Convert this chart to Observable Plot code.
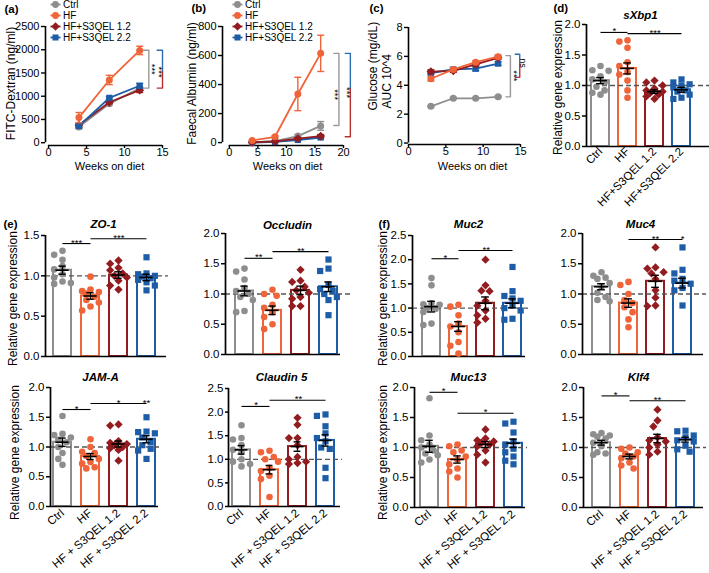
<!DOCTYPE html>
<html><head><meta charset="utf-8">
<script src="https://cdn.jsdelivr.net/npm/d3@7"></script>
<script src="https://cdn.jsdelivr.net/npm/@observablehq/plot@0.6"></script>
<style>
html,body{margin:0;padding:0;background:#fff;}
#fig{position:relative;width:709px;height:573px;overflow:hidden;background:#fff;}
#fig svg{position:absolute;left:0;top:0;}
</style></head><body><div id="fig"></div>
<script>
const W = 709, H = 573;
const FONT = '"Liberation Sans", Arial, Helvetica, sans-serif';

// ---------- groups ----------
const groups = ["Ctrl", "HF", "HF+S3QEL 1.2", "HF+S3QEL 2.2"];
const groupColors = ["#8e8e8e", "#f0643a", "#921c1f", "#1d5ca6"];
const labelsTop = ["Ctrl", "HF", "HF+S3QEL 1.2", "HF+S3QEL 2.2"];
const labelsBottom = ["Ctrl", "HF", "HF + S3QEL 1.2", "HF + S3QEL 2.2"];

// ---------- (a) FITC-Dextran ----------
const weeksA = [4, 8, 12];
const fitcMeans = [[340, 840, 1170], [540, 1350, 1985], [380, 870, 1130], [360, 965, 1225]];
const fitcErrs = [[40, 25, 40], [110, 100, 90], [40, 25, 50], [40, 25, 50]];

// ---------- (b) Faecal albumin ----------
const weeksB = [4, 8, 12, 16];
const albMeans = [[2, 10, 45, 115], [15, 40, 335, 615], [2, 8, 28, 45], [0, 5, 18, 35]];
const albErrs = [[2, 3, 8, 30], [4, 8, 115, 125], [2, 3, 6, 10], [2, 3, 5, 8]];

// ---------- (c) Glucose AUC ----------
const weeksC = [3, 6, 9, 12];
const glucMeans = [[2.54, 3.1, 3.1, 3.2], [4.45, 5.1, 5.6, 5.98], [4.95, 5.0, 5.45, 5.9], [4.85, 5.1, 5.15, 5.5]];
const glucErrs = [[0.05, 0.06, 0.05, 0.05], [0.15, 0.1, 0.1, 0.12], [0.12, 0.1, 0.1, 0.1], [0.1, 0.1, 0.15, 0.12]];

// ---------- gene expression panels ----------
const sxbpMean = [1.08, 1.28, 0.9, 0.93], sxbpSem = [0.05, 0.09, 0.03, 0.04];
const sxbpPoints = [
  [1.32, 1.25, 1.24, 1.15, 1.1, 1.05, 0.98, 0.92, 0.88, 0.85],
  [1.74, 1.72, 1.62, 1.38, 1.32, 1.22, 1.18, 1.08, 0.92, 0.8],
  [1.08, 1.05, 1.0, 0.95, 0.92, 0.9, 0.88, 0.85, 0.82, 0.78],
  [1.1, 1.05, 1.02, 1.0, 0.97, 0.92, 0.9, 0.85, 0.8, 0.78]];
const sxbpSig = [{from: "Ctrl", to: "HF", y: 1.87, text: "*"}, {from: "HF", to: "HF+S3QEL 2.2", y: 1.85, text: "***"}];

const zo1Mean = [1.07, 0.75, 1.01, 0.98], zo1Sem = [0.05, 0.04, 0.04, 0.04];
const zo1Points = [
  [1.31, 1.26, 1.2, 1.12, 1.08, 1.02, 0.98, 0.93, 0.91, 0.9],
  [0.99, 0.83, 0.81, 0.8, 0.78, 0.74, 0.7, 0.67, 0.62, 0.57],
  [1.19, 1.15, 1.1, 1.07, 1.03, 1.0, 0.98, 0.94, 0.88, 0.83],
  [1.23, 1.03, 1.02, 1.0, 0.99, 0.97, 0.95, 0.92, 0.88, 0.82]];
const zo1Sig = [{from: "Ctrl", to: "HF", y: 1.4, text: "***"}, {from: "HF", to: "HF+S3QEL 2.2", y: 1.46, text: "***"}];

const occMean = [1.05, 0.73, 1.06, 1.12], occSem = [0.08, 0.07, 0.07, 0.08];
const occPoints = [
  [1.42, 1.37, 1.24, 1.1, 1.05, 1.0, 0.95, 0.9, 0.72, 0.7],
  [1.07, 1.0, 0.97, 0.82, 0.77, 0.7, 0.62, 0.5, 0.42],
  [1.4, 1.22, 1.2, 1.12, 1.06, 1.02, 0.95, 0.92, 0.8, 0.8],
  [1.57, 1.42, 1.38, 1.15, 1.08, 1.05, 1.0, 0.95, 0.9, 0.65]];
const occSig = [{from: "Ctrl", to: "HF", y: 1.59, text: "**"}, {from: "HF", to: "HF+S3QEL 2.2", y: 1.7, text: "**"}];

const muc2Mean = [1.03, 0.62, 1.1, 1.1], muc2Sem = [0.11, 0.1, 0.13, 0.09];
const muc2Points = [
  [1.62, 1.47, 1.1, 1.08, 1.07, 1.0, 0.98, 0.92, 0.68, 0.65],
  [1.07, 1.03, 0.85, 0.68, 0.62, 0.5, 0.3, 0.22, 0.06],
  [2.0, 1.47, 1.36, 1.35, 1.15, 1.05, 0.95, 0.85, 0.78, 0.7],
  [1.85, 1.35, 1.25, 1.2, 1.15, 1.05, 1.0, 0.95, 0.78, 0.76]];
const muc2Sig = [{from: "Ctrl", to: "HF", y: 2.02, text: "*"}, {from: "HF", to: "HF+S3QEL 2.2", y: 2.19, text: "**"}];

const muc4Mean = [1.12, 0.85, 1.21, 1.18], muc4Sem = [0.05, 0.07, 0.1, 0.08];
const muc4Points = [
  [1.36, 1.3, 1.27, 1.25, 1.18, 1.12, 1.02, 0.95, 0.9, 0.88],
  [1.2, 1.15, 1.0, 0.9, 0.85, 0.78, 0.7, 0.58, 0.45],
  [1.77, 1.44, 1.42, 1.36, 1.34, 1.25, 1.06, 0.94, 0.81, 0.8],
  [1.77, 1.4, 1.34, 1.25, 1.22, 1.17, 1.1, 1.06, 0.81]];
const muc4Sig = [{from: "HF", to: "HF+S3QEL 2.2", y: 1.9, stars: [["HF+S3QEL 1.2", "**"], ["HF+S3QEL 2.2", "*"]]}];

const jamMean = [1.08, 0.84, 1.05, 1.13], jamSem = [0.07, 0.05, 0.05, 0.06];
const jamPoints = [
  [1.52, 1.22, 1.2, 1.16, 1.12, 1.08, 1.0, 0.9, 0.8, 0.7],
  [1.13, 1.0, 0.92, 0.9, 0.85, 0.8, 0.75, 0.72, 0.66, 0.64],
  [1.38, 1.36, 1.1, 1.07, 1.05, 1.03, 1.0, 0.98, 0.95, 0.77],
  [1.5, 1.26, 1.25, 1.23, 1.16, 1.08, 1.03, 0.97, 0.94, 0.8]];
const jamSig = [{from: "Ctrl", to: "HF", y: 1.63, text: "*"}, {from: "HF", to: "HF+S3QEL 2.2", y: 1.73, stars: [["HF+S3QEL 1.2", "*"], ["HF+S3QEL 2.2", "**"]]}];

const cld5Mean = [1.2, 0.78, 1.27, 1.4], cld5Sem = [0.09, 0.09, 0.1, 0.12];
const cld5Points = [
  [1.72, 1.45, 1.42, 1.3, 1.2, 1.15, 1.0, 0.95, 0.9, 0.85],
  [1.18, 1.15, 1.05, 1.0, 0.95, 0.82, 0.75, 0.65, 0.58, 0.2],
  [1.88, 1.73, 1.45, 1.45, 1.3, 1.05, 1.0, 0.95, 0.92, 0.9],
  [1.95, 1.92, 1.7, 1.55, 1.45, 1.38, 1.25, 1.22, 0.82, 0.6]];
const cld5Sig = [{from: "Ctrl", to: "HF", y: 2.12, text: "*"}, {from: "HF", to: "HF+S3QEL 2.2", y: 2.25, text: "**"}];

const muc13Mean = [1.02, 0.8, 1.05, 1.07], muc13Sem = [0.1, 0.06, 0.05, 0.07];
const muc13Points = [
  [1.82, 1.2, 1.12, 1.05, 1.0, 0.95, 0.9, 0.87, 0.8, 0.75],
  [1.05, 1.02, 0.95, 0.92, 0.85, 0.8, 0.72, 0.65, 0.6, 0.5],
  [1.3, 1.15, 1.12, 1.1, 1.08, 1.05, 1.02, 0.95, 0.88, 0.75],
  [1.43, 1.4, 1.25, 1.1, 1.05, 0.98, 0.92, 0.85, 0.78, 0.72]];
const muc13Sig = [{from: "Ctrl", to: "HF", y: 1.92, text: "*"}, {from: "HF", to: "HF+S3QEL 2.2", y: 1.57, text: "*"}];

const klf4Mean = [1.08, 0.85, 1.15, 1.13], klf4Sem = [0.04, 0.04, 0.07, 0.04];
const klf4Points = [
  [1.24, 1.22, 1.2, 1.18, 1.15, 1.08, 1.02, 0.92, 0.9, 0.88],
  [1.0, 0.98, 0.92, 0.9, 0.85, 0.82, 0.75, 0.7, 0.65],
  [1.63, 1.45, 1.35, 1.17, 1.12, 1.1, 1.05, 1.0, 0.93, 0.88],
  [1.28, 1.27, 1.2, 1.17, 1.12, 1.1, 1.03, 0.97, 0.93]];
const klf4Sig = [{from: "Ctrl", to: "HF", y: 1.86, text: "*"}, {from: "HF", to: "HF+S3QEL 2.2", y: 1.78, text: "**"}];

// ---------- helpers ----------
const fig = document.getElementById("fig");
const capSym = {draw(ctx, size) { const r = Math.sqrt(size / Math.PI); ctx.moveTo(-r, 0); ctx.lineTo(r, 0); }};
const diamondSym = {draw(ctx, size) { const a = Math.sqrt(size / 2); ctx.moveTo(0, -a); ctx.lineTo(a, 0); ctx.lineTo(0, a); ctx.lineTo(-a, 0); ctx.closePath(); }};
const symFor = ["circle", "circle", diamondSym, "square"];

function mount(marks, opts) {
  const svg = Plot.plot({
    width: W, height: H, ...opts,
    color: {type: "identity"},
    style: {background: "transparent", fontFamily: FONT, color: "black", overflow: "visible"},
    marks
  });
  svg.style.position = "absolute"; svg.style.left = "0px"; svg.style.top = "0px";
  fig.appendChild(svg);
}

function txt(str, o) {
  return Plot.text([str], {text: d => d, frameAnchor: "top-left", textAnchor: "middle", lineAnchor: "middle", fill: "black", ...o});
}

function swarm(vals, ky, r, maxOff) {
  const idx = vals.map((_, i) => i).sort((a, b) => vals[b] - vals[a]);
  const cands = [0, -maxOff / 2, maxOff / 2, -maxOff, maxOff];
  const placed = [], offs = [];
  for (const i of idx) {
    const py = vals[i] * ky;
    let pick = 0, bestD = -1;
    for (const c of cands) {
      let d = Infinity;
      for (const p of placed) d = Math.min(d, Math.hypot(p[0] - c, p[1] - py));
      if (d >= 2 * r) { pick = c; break; }
      if (d > bestD) { bestD = d; pick = c; }
    }
    placed.push([pick, py]); offs[i] = pick;
  }
  return offs;
}

function legend(x0) {
  const rows = groups.map((g, i) => ({g, i}));
  const marks = [
    Plot.link(rows, {x1: 0, x2: 10, y1: "g", y2: "g", stroke: d => groupColors[d.i], strokeWidth: 1.8}),
    ...rows.map((r, i) => Plot.dot([r], {x: 5, y: "g", r: 3.4, symbol: symFor[i], fill: groupColors[i]})),
    Plot.text(rows, {x: 12.5, y: "g", text: "g", textAnchor: "start", fontSize: 10, fill: "black"})
  ];
  mount(marks, {marginLeft: x0, marginRight: W - x0 - 10, marginTop: 3, marginBottom: H - 37,
    x: {domain: [0, 10], axis: null}, y: {type: "point", domain: groups, padding: 0, axis: null}});
}

function linePanel(c) {
  const [L, R] = c.xRange, [B, T] = c.yRange;
  const marks = [
    Plot.ruleX([c.xDomain[0]], {y1: 0, y2: c.yTicks[c.yTicks.length - 1], strokeWidth: 1.6}),
    Plot.ruleY([c.yDomain[0]], {x1: c.xTicks[0], x2: c.xTicks[c.xTicks.length - 1], strokeWidth: 1.6}),
    Plot.axisY({ticks: c.yTicks, tickSize: 4, tickPadding: 2, fontSize: 11, strokeWidth: 1.4, label: null, tickFormat: d => String(d)}),
    Plot.axisX({ticks: c.xTicks, tickSize: 3, tickPadding: 0, fontSize: 11, strokeWidth: 1.4, label: null})
  ];
  for (const gi of c.order) {
    const d = c.weeks.map((w, j) => ({w, v: c.means[gi][j], e: c.errs[gi][j]}));
    const col = groupColors[gi];
    marks.push(Plot.ruleX(d, {x: "w", y1: r => r.v - r.e, y2: r => r.v + r.e, stroke: col, strokeWidth: 1.4}));
    marks.push(Plot.dot(d, {x: "w", y: r => r.v + r.e, symbol: capSym, r: 3.5, stroke: col, fill: "none", strokeWidth: 1.4}));
    marks.push(Plot.dot(d, {x: "w", y: r => r.v - r.e, symbol: capSym, r: 3.5, stroke: col, fill: "none", strokeWidth: 1.4}));
    marks.push(Plot.line(d, {x: "w", y: "v", stroke: col, strokeWidth: 1.8}));
    marks.push(Plot.dot(d, {x: "w", y: "v", symbol: symFor[gi], r: 3.5, fill: col}));
  }
  for (const b of c.brackets) {
    const pts = [];
    if (b.ticks !== "bottom") pts.push([b.x - b.t, b.y1]);
    pts.push([b.x, b.y1], [b.x, b.y2]);
    if (b.ticks !== "top") pts.push([b.x - b.t, b.y2]);
    marks.push(Plot.line(pts, {stroke: b.color, strokeWidth: 1.4}));
  }
  for (const s of c.stars) {
    marks.push(Plot.text([s], {x: "x", y: "y", text: "text", rotate: 90, fontSize: s.size || 9.5, fill: "black"}));
  }
  marks.push(txt(c.letter, {dx: c.letterPos[0] - L, dy: c.letterPos[1] - T, fontWeight: "bold", fontSize: 11.5, textAnchor: "start"}));
  marks.push(txt("Weeks on diet", {dx: c.xlabPos[0] - L, dy: c.xlabPos[1] - T, fontSize: 11}));
  for (const yl of c.ylabels) {
    marks.push(txt(yl.text, {dx: yl.x - L, dy: yl.y - T, rotate: -90, fontSize: 12, textAnchor: yl.anchor || "middle"}));
  }
  mount(marks, {marginLeft: L, marginRight: W - R, marginTop: T, marginBottom: H - B,
    x: {domain: c.xDomain, axis: null}, y: {domain: c.yDomain, axis: null}});
}

function barPanel(c) {
  const step = (c.c3 - c.c0) / 3;
  const pin = 0.34;
  const bw = step * (1 - pin);
  const r0 = c.c0 - bw / 2;
  const r1 = r0 + step * (4 - pin);
  const ky = (c.bottom - c.top) / c.ymax;
  const summary = groups.map((g, i) => ({g, i, m: c.mean[i], s: c.sem[i]}));
  const lab = new Map(groups.map((g, i) => [g, c.labels ? c.labels[i] : ""]));
  const marks = [];
  marks.push(Plot.barY(summary, {x: "g", y: "m", fill: "white", stroke: d => groupColors[d.i], strokeWidth: 2}));
  marks.push(Plot.ruleY([1], {stroke: "#555", strokeWidth: 1.3, strokeDasharray: "5,3"}));
  marks.push(Plot.ruleY([0], {strokeWidth: 1.7, insetRight: c.dashEnd - c.right}));
  marks.push(Plot.ruleX([groups[0]], {y1: 0, y2: c.ymax, dx: c.axisX - c.c0, strokeWidth: 1.7}));
  marks.push(Plot.axisY({ticks: c.yticks, tickFormat: d3.format(".1f"), tickSize: 4, tickPadding: 2, fontSize: 11.5, strokeWidth: 1.5, label: null}));
  if (c.labels) marks.push(Plot.axisX({tickRotate: c.rot || -40, tickSize: 0, tickPadding: c.pad || 5, fontSize: 11.5, label: null, tickFormat: d => lab.get(d)}));
  c.points.forEach((arr, i) => {
    const offs = swarm(arr, ky, 3.2, bw / 2 - 1);
    for (const o of [...new Set(offs)]) {
      const sub = arr.map((v, j) => ({g: groups[i], v, o: offs[j]})).filter(p => p.o === o);
      marks.push(Plot.dot(sub, {x: "g", y: "v", dx: o, r: i === 3 ? 3.5 : 3.3, symbol: symFor[i], fill: groupColors[i]}));
    }
  });
  const capIn = (bw - 8) / 2, meanIn = Math.max(0, (bw - 14) / 2);
  marks.push(Plot.ruleX(summary, {x: "g", y1: d => d.m - d.s, y2: d => d.m + d.s, strokeWidth: 1.4}));
  marks.push(Plot.tickY(summary, {x: "g", y: d => d.m + d.s, insetLeft: capIn, insetRight: capIn, strokeWidth: 1.4}));
  marks.push(Plot.tickY(summary, {x: "g", y: d => d.m - d.s, insetLeft: capIn, insetRight: capIn, strokeWidth: 1.4}));
  marks.push(Plot.tickY(summary, {x: "g", y: "m", insetLeft: meanIn, insetRight: meanIn, strokeWidth: 1.6}));
  for (const s of c.sig) {
    marks.push(Plot.link([s], {x1: "from", x2: "to", y1: "y", y2: "y", strokeWidth: 1.1}));
    const stars = s.stars ? s.stars.map(([g, t]) => ({g, t, dx: 0}))
      : [{g: s.from, t: s.text, dx: (groups.indexOf(s.to) - groups.indexOf(s.from)) * step / 2}];
    for (const st of stars) {
      marks.push(Plot.text([st], {x: "g", y: () => s.y, text: "t", dx: st.dx, dy: 2, lineAnchor: "bottom", fontSize: 9.5, fill: "black"}));
    }
  }
  marks.push(txt(c.title, {dx: c.titlePos[0] - c.axisX, dy: c.titlePos[1] - c.top, fontSize: 11.5, fontWeight: "bold", fontStyle: "italic"}));
  if (c.ylabPos) marks.push(txt("Relative gene expression", {dx: c.ylabPos[0] - c.axisX, dy: c.ylabPos[1] - c.top, rotate: -90, fontSize: 12}));
  if (c.letter) marks.push(txt(c.letter, {dx: c.letterPos[0] - c.axisX, dy: c.letterPos[1] - c.top, fontSize: 11.5, fontWeight: "bold", textAnchor: "start"}));
  mount(marks, {
    marginLeft: c.axisX, marginRight: W - c.dashEnd, marginTop: c.top, marginBottom: H - c.bottom,
    x: {type: "band", domain: groups, range: [r0, r1], paddingInner: pin, paddingOuter: 0, align: 0, axis: null},
    y: {domain: [0, c.ymax], axis: null}
  });
}

// ---------- top row: time courses ----------
const gray = "#999999", blueB = "#2a6db5", redB = "#b8312f";
linePanel({
  weeks: weeksA, means: fitcMeans, errs: fitcErrs, order: [0, 2, 3, 1],
  xDomain: [-0.4, 15], xRange: [45, 162], yDomain: [-60, 2500], yRange: [145, 26],
  xTicks: [0, 5, 10, 15], yTicks: [0, 500, 1000, 1500, 2000, 2500],
  brackets: [
    {x: 13.2, y1: 1990, y2: 1175, t: 0.7, color: gray, ticks: "both"},
    {x: 15.0, y1: 1990, y2: 1530, t: 0.7, color: blueB, ticks: "top"},
    {x: 15.0, y1: 1530, y2: 1175, t: 0.7, color: redB, ticks: "bottom"}],
  stars: [{x: 13.65, y: 1580, text: "***"}, {x: 14.6, y: 1520, text: "***"}],
  letter: "(a)", letterPos: [4, 9], xlabPos: [109, 166],
  ylabels: [{text: "FITC-Dextran (ng/ml)", x: 11, y: 83}]
});
legend(50);

linePanel({
  weeks: weeksB, means: albMeans, errs: albErrs, order: [0, 3, 2, 1],
  xDomain: [-1.2, 20], xRange: [222, 343], yDomain: [-20, 800], yRange: [145, 26],
  xTicks: [0, 5, 10, 15, 20], yTicks: [0, 200, 400, 600, 800],
  brackets: [
    {x: 19.2, y1: 615, y2: 118, t: 0.9, color: gray, ticks: "both"},
    {x: 21.2, y1: 615, y2: 370, t: 0.9, color: blueB, ticks: "top"},
    {x: 21.2, y1: 370, y2: 40, t: 0.9, color: redB, ticks: "bottom"}],
  stars: [{x: 18.55, y: 330, text: "***"}, {x: 20.6, y: 345, text: "***"}],
  letter: "(b)", letterPos: [191, 8], xlabPos: [287, 166],
  ylabels: [{text: "Faecal Albumin (ng/ml)", x: 192, y: 83}]
});
legend(232);

linePanel({
  weeks: weeksC, means: glucMeans, errs: glucErrs, order: [0, 3, 2, 1],
  xDomain: [0, 15], xRange: [408, 520], yDomain: [-0.1, 8], yRange: [144, 27],
  xTicks: [0, 5, 10, 15], yTicks: [0, 2, 4, 6, 8],
  brackets: [
    {x: 13.65, y1: 6.05, y2: 3.2, t: 0.6, color: gray, ticks: "both"},
    {x: 14.9, y1: 6.15, y2: 5.4, t: 0.6, color: blueB, ticks: "top"},
    {x: 14.9, y1: 5.4, y2: 4.55, t: 0.6, color: redB, ticks: "bottom"}],
  stars: [{x: 14.1, y: 4.65, text: "***"}, {x: 15.35, y: 5.55, text: "ns", size: 9}],
  letter: "(c)", letterPos: [369, 8], xlabPos: [472, 166],
  ylabels: [{text: "Glucose (mg/dL)", x: 373, y: 110, anchor: "start"}, {text: "AUC 10^4", x: 387, y: 108, anchor: "start"}]
});

// ---------- bar panels ----------
barPanel({title: "sXbp1", mean: sxbpMean, sem: sxbpSem, points: sxbpPoints, sig: sxbpSig,
  axisX: 586, top: 24, bottom: 146, c0: 600, c3: 683, right: 709, dashEnd: 709, ymax: 2, yticks: [0, 0.5, 1, 1.5, 2],
  titlePos: [640, 15], ylabPos: [558, 87], labels: labelsTop, rot: -45, pad: 3, letter: "(d)", letterPos: [553, 8]});

barPanel({title: "ZO-1", mean: zo1Mean, sem: zo1Sem, points: zo1Points, sig: zo1Sig,
  axisX: 45, top: 235, bottom: 356, c0: 62, c3: 147, right: 166, dashEnd: 168, ymax: 1.5, yticks: [0, 0.5, 1, 1.5],
  titlePos: [103, 224], ylabPos: [13, 298], letter: "(e)", letterPos: [3, 224]});

barPanel({title: "Occludin", mean: occMean, sem: occSem, points: occPoints, sig: occSig,
  axisX: 225, top: 233, bottom: 354, c0: 244, c3: 329, right: 340, dashEnd: 350, ymax: 2, yticks: [0, 0.5, 1, 1.5, 2],
  titlePos: [287, 225]});

barPanel({title: "Muc2", mean: muc2Mean, sem: muc2Sem, points: muc2Points, sig: muc2Sig,
  axisX: 412, top: 235, bottom: 356, c0: 431, c3: 514, right: 525, dashEnd: 528, ymax: 2.5, yticks: [0, 0.5, 1, 1.5, 2, 2.5],
  titlePos: [468, 224], ylabPos: [383, 298], letter: "(f)", letterPos: [378, 224]});

barPanel({title: "Muc4", mean: muc4Mean, sem: muc4Sem, points: muc4Points, sig: muc4Sig,
  axisX: 582, top: 233, bottom: 354, c0: 601, c3: 684, right: 703, dashEnd: 706, ymax: 2, yticks: [0, 0.5, 1, 1.5, 2],
  titlePos: [640, 224]});

barPanel({title: "JAM-A", mean: jamMean, sem: jamSem, points: jamPoints, sig: jamSig,
  axisX: 50, top: 387, bottom: 506, c0: 62, c3: 147, right: 158, dashEnd: 160, ymax: 2, yticks: [0, 0.5, 1, 1.5, 2],
  titlePos: [100, 377], ylabPos: [15, 452], labels: labelsBottom});

barPanel({title: "Claudin 5", mean: cld5Mean, sem: cld5Sem, points: cld5Points, sig: cld5Sig,
  axisX: 229, top: 388, bottom: 506, c0: 242, c3: 329, right: 340, dashEnd: 342, ymax: 2.5, yticks: [0, 0.5, 1, 1.5, 2, 2.5],
  titlePos: [281, 377], labels: labelsBottom});

barPanel({title: "Muc13", mean: muc13Mean, sem: muc13Sem, points: muc13Points, sig: muc13Sig,
  axisX: 414, top: 387, bottom: 507, c0: 429, c3: 513, right: 525, dashEnd: 527, ymax: 2, yticks: [0, 0.5, 1, 1.5, 2],
  titlePos: [468, 377], ylabPos: [383, 452], labels: labelsBottom});

barPanel({title: "Klf4", mean: klf4Mean, sem: klf4Sem, points: klf4Points, sig: klf4Sig,
  axisX: 583, top: 387, bottom: 507, c0: 601, c3: 685, right: 703, dashEnd: 706, ymax: 2, yticks: [0, 0.5, 1, 1.5, 2],
  titlePos: [638, 377], labels: labelsBottom});
</script>
</body></html>
